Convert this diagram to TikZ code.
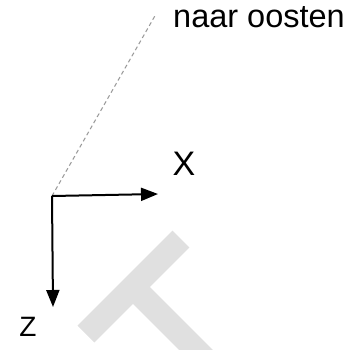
\documentclass[tikz,border=0pt]{standalone}
\usepackage{fontspec}
\setmainfont{Liberation Sans}
\usetikzlibrary{arrows.meta}
\definecolor{watermark}{RGB}{224,224,224}
\definecolor{dashgray}{RGB}{150,150,150}
\begin{document}
\begin{tikzpicture}[
  x=1pt, y=-1pt,
  axis/.style={line width=2pt, -{Triangle[length=17pt, width=13pt]}},
  label/.style={inner sep=0pt, text=black}
]
  \useasboundingbox (0,0) rectangle (356,349);

  % ==========================================
  % 1. WATERMERK (grijze T op de achtergrond)
  % ==========================================
  \begin{scope}
    \clip (0,0) rectangle (356,349);
    \draw[watermark, line width=24pt] (181,239) -- (86,334);
    \draw[watermark, line width=24pt] (133,287) -- (210,364);
  \end{scope}

  % ==========================================
  % 2. ASSEN
  % ==========================================
  \coordinate (O) at (52,196);
  \coordinate (Xtip) at (158,194);
  \coordinate (Ztip) at (53,307);

  \node[label, font=\fontsize{32.5}{38}\selectfont, anchor=base west] (east) at (173,27) {naar oosten};
  \coordinate (Etip) at (156,14);

  \draw[dashgray, line width=1pt, dash pattern=on 4pt off 3pt] (O) -- (Etip);
  \draw[axis] (O) -- (Xtip);
  \draw[axis] (O) -- (Ztip);

  \node[label, font=\fontsize{34}{40}\selectfont] (X) at (184,163.5) {X};
  \node[label, font=\fontsize{28}{34}\selectfont] (Z) at (28,327) {Z};

\end{tikzpicture}
\end{document}
